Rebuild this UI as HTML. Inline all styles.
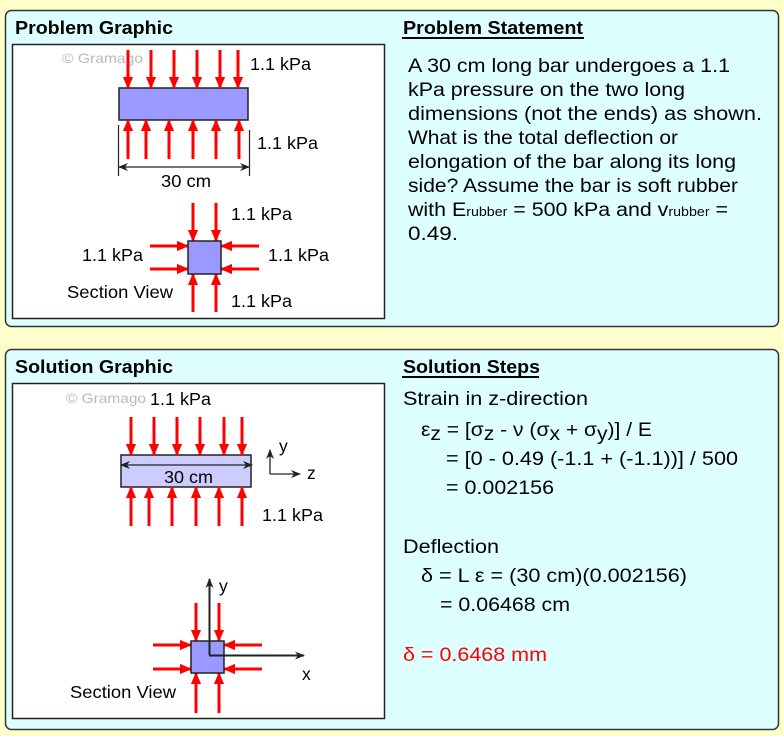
<!DOCTYPE html>
<html><head><meta charset="utf-8"><style>
html,body{margin:0;padding:0;background:#FFFFCC;}
svg{display:block;font-family:"Liberation Sans",Arial,sans-serif;}
</style></head><body>
<svg width="783" height="736" viewBox="0 0 783 736" xmlns="http://www.w3.org/2000/svg">
<defs>
<marker id="r" markerUnits="userSpaceOnUse" markerWidth="12" markerHeight="14" refX="13" refY="6" orient="auto" viewBox="0 0 14 12"><path d="M0,0 L14,6 L0,12 z" fill="#FF0000"/></marker>
<marker id="k" markerUnits="userSpaceOnUse" markerWidth="10" markerHeight="8" refX="9" refY="4" orient="auto" viewBox="0 0 10 8"><path d="M0,0 L10,4 L0,8 L3,4 z" fill="#222"/></marker>
<marker id="k2" markerUnits="userSpaceOnUse" markerWidth="10" markerHeight="8" refX="1" refY="4" orient="auto" viewBox="0 0 10 8"><path d="M10,0 L0,4 L10,8 L7,4 z" fill="#222"/></marker>
</defs>
<rect x="0" y="0" width="783" height="736" fill="#FFFFCC"/>
<rect x="5.5" y="10.5" width="773" height="316" rx="6" fill="#DDFFFF" stroke="#333" stroke-width="1.5"/>
<rect x="5.5" y="349.5" width="773" height="380" rx="6" fill="#DDFFFF" stroke="#333" stroke-width="1.5"/>
<rect x="12.5" y="44.5" width="372" height="274" fill="#fff" stroke="#222" stroke-width="1.5"/>
<rect x="12.5" y="383.5" width="372" height="335" fill="#fff" stroke="#222" stroke-width="1.5"/>

<g font-size="18" font-weight="bold" fill="#000" lengthAdjust="spacingAndGlyphs">
<text x="15" y="34" textLength="158" lengthAdjust="spacingAndGlyphs">Problem Graphic</text>
<text x="15" y="373" textLength="158" lengthAdjust="spacingAndGlyphs">Solution Graphic</text>
<text x="403" y="34" textLength="180" lengthAdjust="spacingAndGlyphs">Problem Statement</text>
<text x="403" y="373" textLength="137" lengthAdjust="spacingAndGlyphs">Solution Steps</text>
</g>
<line x1="402" y1="38" x2="584" y2="38" stroke="#000" stroke-width="2"/>
<line x1="402" y1="377" x2="539" y2="377" stroke="#000" stroke-width="2"/>

<g font-size="19.5" fill="#000">
<text x="408" y="72" textLength="322" lengthAdjust="spacingAndGlyphs">A 30 cm long bar undergoes a 1.1</text>
<text x="408" y="96" textLength="277" lengthAdjust="spacingAndGlyphs">kPa pressure on the two long</text>
<text x="408" y="120" textLength="354" lengthAdjust="spacingAndGlyphs">dimensions (not the ends) as shown.</text>
<text x="408" y="144" textLength="270" lengthAdjust="spacingAndGlyphs">What is the total deflection or</text>
<text x="408" y="168" textLength="328" lengthAdjust="spacingAndGlyphs">elongation of the bar along its long</text>
<text x="408" y="192" textLength="330" lengthAdjust="spacingAndGlyphs">side? Assume the bar is soft rubber</text>
<text x="408" y="216" textLength="320" lengthAdjust="spacingAndGlyphs">with E<tspan font-size="13">rubber</tspan> = 500 kPa and v<tspan font-size="13">rubber</tspan> =</text>
<text x="408" y="240" textLength="50" lengthAdjust="spacingAndGlyphs">0.49.</text>

<text x="403" y="405" textLength="185" lengthAdjust="spacingAndGlyphs">Strain in z-direction</text>
<text x="421" y="436" textLength="231" lengthAdjust="spacingAndGlyphs">ε<tspan dy="4">z</tspan><tspan dy="-4"> = [σ</tspan><tspan dy="4">z</tspan><tspan dy="-4"> - ν (σ</tspan><tspan dy="4">x</tspan><tspan dy="-4"> + σ</tspan><tspan dy="4">y</tspan><tspan dy="-4">)] / E</tspan></text>
<text x="446" y="465" textLength="292" lengthAdjust="spacingAndGlyphs">= [0 - 0.49 (-1.1 + (-1.1))] / 500</text>
<text x="446" y="494" textLength="108" lengthAdjust="spacingAndGlyphs">= 0.002156</text>
<text x="403" y="553" textLength="96" lengthAdjust="spacingAndGlyphs">Deflection</text>
<text x="421" y="582" textLength="266" lengthAdjust="spacingAndGlyphs">δ = L ε = (30 cm)(0.002156)</text>
<text x="440" y="611" textLength="130" lengthAdjust="spacingAndGlyphs">= 0.06468 cm</text>
<text x="403" y="661" fill="#FF0000" textLength="144" lengthAdjust="spacingAndGlyphs">δ = 0.6468 mm</text>
</g>

<!-- Problem graphic -->
<text x="62" y="63" font-size="14" fill="#bbb" textLength="81" lengthAdjust="spacingAndGlyphs">© Gramago</text>
<rect x="119" y="88" width="129" height="32" fill="#9999FF" stroke="#222" stroke-width="1.5"/>
<g stroke="#FF0000" stroke-width="3" marker-end="url(#r)">
<line x1="128" y1="50" x2="128" y2="88"/><line x1="151" y1="50" x2="151" y2="88"/><line x1="174" y1="50" x2="174" y2="88"/><line x1="197" y1="50" x2="197" y2="88"/><line x1="220" y1="50" x2="220" y2="88"/><line x1="238" y1="50" x2="238" y2="88"/>
<line x1="128" y1="159" x2="128" y2="120"/><line x1="146" y1="159" x2="146" y2="120"/><line x1="169" y1="159" x2="169" y2="120"/><line x1="193" y1="159" x2="193" y2="120"/><line x1="216" y1="159" x2="216" y2="120"/><line x1="239" y1="159" x2="239" y2="120"/>
<line x1="193" y1="203" x2="193" y2="241"/><line x1="216" y1="203" x2="216" y2="241"/>
<line x1="193" y1="312" x2="193" y2="274"/><line x1="216" y1="312" x2="216" y2="274"/>
<line x1="150" y1="246" x2="188" y2="246"/><line x1="150" y1="269" x2="188" y2="269"/>
<line x1="259" y1="246" x2="221" y2="246"/><line x1="259" y1="269" x2="221" y2="269"/>
</g>
<g stroke="#222" stroke-width="1.2">
<line x1="118.5" y1="125" x2="118.5" y2="176"/><line x1="249.5" y1="130" x2="249.5" y2="176"/>
<line x1="119" y1="167" x2="249" y2="167" marker-end="url(#k)" marker-start="url(#k2)"/>
</g>
<rect x="188" y="241" width="33" height="33" fill="#9999FF" stroke="#222" stroke-width="1.5"/>
<g font-size="17.5" fill="#000">
<text x="250" y="70" textLength="61" lengthAdjust="spacingAndGlyphs">1.1 kPa</text>
<text x="257" y="149" textLength="61" lengthAdjust="spacingAndGlyphs">1.1 kPa</text>
<text x="161" y="187" textLength="50" lengthAdjust="spacingAndGlyphs">30 cm</text>
<text x="231" y="220" textLength="61" lengthAdjust="spacingAndGlyphs">1.1 kPa</text>
<text x="82" y="261" textLength="61" lengthAdjust="spacingAndGlyphs">1.1 kPa</text>
<text x="268" y="261" textLength="61" lengthAdjust="spacingAndGlyphs">1.1 kPa</text>
<text x="231" y="307" textLength="61" lengthAdjust="spacingAndGlyphs">1.1 kPa</text>
<text x="67" y="298" textLength="106" lengthAdjust="spacingAndGlyphs">Section View</text>
</g>

<!-- Solution graphic -->
<text x="66" y="403" font-size="14" fill="#bbb" textLength="80" lengthAdjust="spacingAndGlyphs">© Gramago</text>
<rect x="121" y="455" width="130" height="32" fill="#CCCCFF" stroke="#222" stroke-width="1.5"/>
<g stroke="#FF0000" stroke-width="3" marker-end="url(#r)">
<line x1="131" y1="417" x2="131" y2="455"/><line x1="154" y1="417" x2="154" y2="455"/><line x1="177" y1="417" x2="177" y2="455"/><line x1="200" y1="417" x2="200" y2="455"/><line x1="224" y1="417" x2="224" y2="455"/><line x1="242" y1="417" x2="242" y2="455"/>
<line x1="131" y1="526" x2="131" y2="487"/><line x1="149" y1="526" x2="149" y2="487"/><line x1="172" y1="526" x2="172" y2="487"/><line x1="196" y1="526" x2="196" y2="487"/><line x1="219" y1="526" x2="219" y2="487"/><line x1="242" y1="526" x2="242" y2="487"/>
<line x1="196" y1="603" x2="196" y2="641"/><line x1="219" y1="603" x2="219" y2="641"/>
<line x1="196" y1="713" x2="196" y2="673"/><line x1="219" y1="713" x2="219" y2="673"/>
<line x1="153" y1="645" x2="191" y2="645"/><line x1="153" y1="669" x2="191" y2="669"/>
<line x1="262" y1="645" x2="224" y2="645"/><line x1="262" y1="669" x2="224" y2="669"/>
</g>
<rect x="191" y="641" width="33" height="32" fill="#9999FF" stroke="#222" stroke-width="1.5"/>
<g stroke="#222" stroke-width="1.3" fill="none">
<line x1="121" y1="465" x2="252" y2="465" marker-end="url(#k)" marker-start="url(#k2)"/>
<polyline points="270,474 300,474" marker-end="url(#k)"/>
<polyline points="270,474 270,450" marker-end="url(#k)"/>
<line x1="209.5" y1="655" x2="209.5" y2="579" stroke-width="2" marker-end="url(#k)"/>
<line x1="209" y1="655.5" x2="304" y2="655.5" stroke-width="2" marker-end="url(#k)"/>
</g>
<g font-size="17.5" fill="#000">
<text x="150" y="405" textLength="61" lengthAdjust="spacingAndGlyphs">1.1 kPa</text>
<text x="164" y="483" textLength="49" lengthAdjust="spacingAndGlyphs">30 cm</text>
<text x="279" y="452">y</text>
<text x="307" y="479">z</text>
<text x="262" y="521" textLength="61" lengthAdjust="spacingAndGlyphs">1.1 kPa</text>
<text x="219" y="592">y</text>
<text x="302" y="680">x</text>
<text x="70" y="698" textLength="106" lengthAdjust="spacingAndGlyphs">Section View</text>
</g>
</svg>
</body></html>
